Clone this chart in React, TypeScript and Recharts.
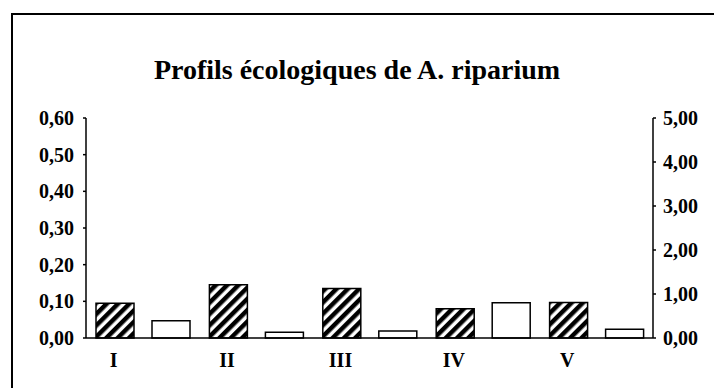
import { Bar, BarChart, XAxis, YAxis } from "recharts";

const categories = ["I", "II", "III", "IV", "V"];
const hatchedValues = [0.095, 0.145, 0.135, 0.08, 0.097];
const whiteValues = [0.39, 0.13, 0.16, 0.8, 0.2];
const leftTicks = [0, 0.1, 0.2, 0.3, 0.4, 0.5, 0.6];
const rightTicks = [0, 1, 2, 3, 4, 5];

const data = categories.map((name, i) => ({
  name,
  hatched: hatchedValues[i],
  white: whiteValues[i]
}));

const font = '"Liberation Serif", "Times New Roman", serif';
const fmt = (v: number) => v.toFixed(2).replace(".", ",");

function CategoryTick(props: any) {
  const { x, y, payload } = props;
  return (
    <text
      x={x - 29}
      y={y + 22}
      textAnchor="middle"
      dominantBaseline="central"
      fontFamily={font}
      fontWeight="bold"
      fontSize={20}
      fill="#000"
    >
      {payload.value}
    </text>
  );
}

export default function App() {
  return (
    <div
      style={{
        position: "absolute",
        left: 0,
        top: 0,
        width: 714,
        height: 388,
        background: "#fff",
        overflow: "hidden"
      }}
    >
      <div
        style={{
          position: "absolute",
          left: 11,
          top: 13,
          width: 720,
          height: 400,
          borderLeft: "2px solid #000",
          borderTop: "2px solid #000"
        }}
      />
      <div
        style={{
          position: "absolute",
          left: 0,
          top: 54,
          width: 714,
          textAlign: "center",
          fontFamily: font,
          fontWeight: "bold",
          fontSize: 28,
          lineHeight: "32px",
          color: "#000"
        }}
      >
        Profils écologiques de A. riparium
      </div>
      <div style={{ position: "absolute", left: 0, top: 0 }}>
        <BarChart
          width={714}
          height={388}
          data={data}
          margin={{ top: 118, right: 0, bottom: 20, left: 16 }}
          barSize={38}
          barGap={18}
        >
          <defs>
            <pattern
              id="hatch"
              width={8}
              height={8}
              patternUnits="userSpaceOnUse"
              patternTransform="rotate(45)"
            >
              <rect x={0} y={0} width={8} height={8} fill="#fff" />
              <rect x={0} y={0} width={4.5} height={8} fill="#000" />
            </pattern>
          </defs>
          <XAxis
            dataKey="name"
            height={30}
            stroke="#000"
            strokeWidth={1.5}
            tickLine={false}
            tickSize={0}
            tickMargin={0}
            tick={<CategoryTick />}
          />
          <YAxis
            yAxisId="left"
            width={70}
            domain={[0, 0.6]}
            ticks={leftTicks}
            tickFormatter={fmt}
            stroke="#000"
            strokeWidth={1.5}
            tickSize={3}
            tickMargin={9}
            tick={{ fill: "#000", fontFamily: font, fontWeight: "bold", fontSize: 20 }}
          />
          <YAxis
            yAxisId="right"
            orientation="right"
            width={61}
            domain={[0, 5]}
            ticks={rightTicks}
            tickFormatter={fmt}
            stroke="#000"
            strokeWidth={1.5}
            tickSize={3}
            tickMargin={7}
            tick={{ fill: "#000", fontFamily: font, fontWeight: "bold", fontSize: 20, textAnchor: "start" }}
          />
          <Bar
            yAxisId="left"
            dataKey="hatched"
            fill="url(#hatch)"
            stroke="#000"
            strokeWidth={1.5}
            isAnimationActive={false}
          />
          <Bar
            yAxisId="right"
            dataKey="white"
            fill="#fff"
            stroke="#000"
            strokeWidth={1.5}
            isAnimationActive={false}
          />
        </BarChart>
      </div>
    </div>
  );
}
